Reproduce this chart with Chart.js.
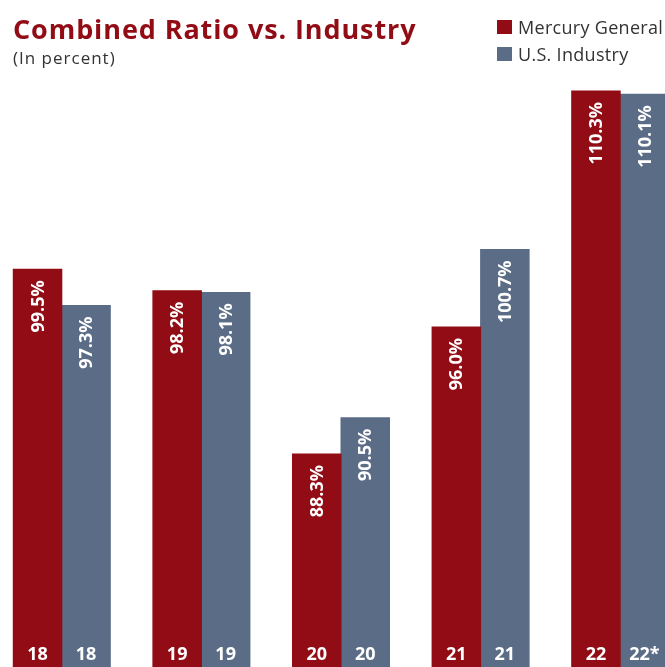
<!DOCTYPE html>
<html>
<head>
<meta charset="utf-8">
<script src="https://cdn.jsdelivr.net/npm/chart.js@4/dist/chart.umd.min.js"></script>
<style>
  html, body { margin: 0; padding: 0; background: #fff; }
  body { width: 665px; height: 667px; overflow: hidden; position: relative; }
  canvas { position: absolute; left: -8px; top: 0; }
  .title { position: absolute; left: 13px; top: 12px; margin: 0; font: 700 27px "Open Sans"; letter-spacing: 0.9px; line-height: 34px; color: #910c14; white-space: nowrap; }
  .sub { position: absolute; left: 13px; top: 47px; font: 400 17px "Open Sans"; letter-spacing: 1px; line-height: 22px; color: #333; }
  .legend { position: absolute; left: 497px; top: 13px; font: 400 18px "Open Sans"; letter-spacing: 0.3px; color: #333; }
  .legend .item { display: flex; align-items: center; height: 27px; white-space: nowrap; }
  .legend .box { width: 15px; height: 14px; margin-right: 6px; flex: none; }
</style>
</head>
<body>
<canvas id="myChart" width="698" height="667"></canvas>
<h1 class="title">Combined Ratio vs. Industry</h1>
<div class="sub">(In percent)</div>
<div class="legend" id="legend"></div>
<script>
// data
var years = ['2018', '2019', '2020', '2021', '2022'];
var mercuryTicks = ['18', '19', '20', '21', '22'];
var industryTicks = ['18', '19', '20', '21', '22*'];
var mercuryRatio = [99.5, 98.2, 88.3, 96.0, 110.3];
var industryRatio = [97.3, 98.1, 90.5, 100.7, 110.1];

var red = '#910c14';
var slate = '#5b6d86';

// legend (html)
var legendEl = document.getElementById('legend');
[['Mercury General', red], ['U.S. Industry', slate]].forEach(function (it) {
  var row = document.createElement('div');
  row.className = 'item';
  var box = document.createElement('span');
  box.className = 'box';
  box.style.background = it[1];
  row.appendChild(box);
  row.appendChild(document.createTextNode(it[0]));
  legendEl.appendChild(row);
});

// labels inside the bars
var barLabels = {
  id: 'barLabels',
  afterDatasetsDraw: function (chart) {
    var c = chart.ctx;
    chart.data.datasets.forEach(function (ds, di) {
      var meta = chart.getDatasetMeta(di);
      meta.data.forEach(function (bar, i) {
        c.save();
        c.fillStyle = '#fff';
        // value, rotated
        c.font = '700 18px "Open Sans"';
        c.translate(bar.x, bar.y + 11);
        c.rotate(-Math.PI / 2);
        c.textAlign = 'right';
        c.textBaseline = 'middle';
        c.fillText(ds.data[i].toFixed(1) + '%', 0, 1);
        c.restore();

        c.save();
        c.fillStyle = '#fff';
        c.font = '700 18px "Open Sans"';
        c.textAlign = 'center';
        c.textBaseline = 'alphabetic';
        c.fillText(ds.ticks[i], bar.x, 660);
        c.restore();
      });
    });
  }
};

var ctx = document.getElementById('myChart').getContext('2d');
var myChart = new Chart(ctx, {
  type: 'bar',
  data: {
    labels: years,
    datasets: [{
      label: 'Mercury General',
      data: mercuryRatio,
      ticks: mercuryTicks,
      backgroundColor: red,
      borderWidth: 0,
      inflateAmount: 0.5
    }, {
      label: 'U.S. Industry',
      data: industryRatio,
      ticks: industryTicks,
      backgroundColor: slate,
      borderWidth: 0,
      inflateAmount: 0.5
    }]
  },
  options: {
    responsive: false,
    animation: false,
    devicePixelRatio: 1,
    categoryPercentage: 0.695,
    barPercentage: 1,
    layout: {
      padding: { left: 0, right: 0, top: 79.5, bottom: 0 }
    },
    plugins: {
      legend: { display: false },
      title: { display: false },
      tooltip: { enabled: false }
    },
    scales: {
      x: { display: false },
      y: { display: false, min: 75.4, max: 111 }
    }
  },
  plugins: [barLabels]
});
</script>
</body>
</html>
